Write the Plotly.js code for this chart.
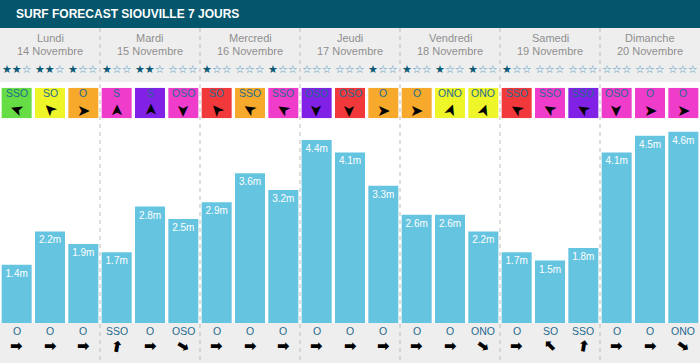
<!DOCTYPE html>
<html><head><meta charset="utf-8">
<script src="https://cdn.plot.ly/plotly-3.0.1.min.js"></script>
<style>html,body{margin:0;padding:0;background:#fff}#chart{width:700px;height:363px}</style>
</head><body><div id="chart"></div>
<script>
const chartTitle = "SURF FORECAST SIOUVILLE 7 JOURS";
const dayNames = ["Lundi","Mardi","Mercredi","Jeudi","Vendredi","Samedi","Dimanche"];
const dayDates = ["14 Novembre","15 Novembre","16 Novembre","17 Novembre","18 Novembre","19 Novembre","20 Novembre"];
const waveHeights = [1.4,2.2,1.9, 1.7,2.8,2.5, 2.9,3.6,3.2, 4.4,4.1,3.3, 2.6,2.6,2.2, 1.7,1.5,1.8, 4.1,4.5,4.6];
const starRating = [2,2,1, 1,2,0, 1,0,1, 0,0,1, 1,1,1, 1,0,0, 0,0,0];
const windDir = ["SSO","SO","O", "S","S","OSO", "SO","SSO","SSO", "OSO","OSO","O", "O","ONO","ONO", "SSO","SSO","SSO", "OSO","O","O"];
const windArrowAngle = [200,225,0, 270,270,90, 228,212,212, 90,90,0, 0,290,290, 212,212,212, 90,0,0];
const windLevel = [0,1,2, 4,5,4, 3,2,4, 5,3,2, 2,1,1, 3,4,5, 4,4,4];
const swellDir = ["O","O","O", "SSO","O","OSO", "O","O","O", "O","O","O", "O","O","ONO", "O","SO","SSO", "O","O","ONO"];
const swellArrowAngle = [0,0,0, 280,0,30, 0,0,0, 0,0,0, 0,0,35, 0,225,280, 0,0,35];

// styles
const windPalette = ["#66dd44","#eef529","#f6a92b","#f1383b","#ef3ccb","#8121e6"];
const FONT = 'Arial, "Liberation Sans", sans-serif';
const ARROWFONT = '"DejaVu Sans", sans-serif';
const dirColor = "#1f6b8f";
const W = 700, H = 363, PLOT_H = 323;
const P = y => (PLOT_H - y) / PLOT_H; // pixel row -> paper coordinate

const idx = waveHeights.map((_, i) => i);

const traces = [
  {
    type: "bar", x: idx, y: waveHeights,
    marker: { color: "#65c4df" },
    texttemplate: "%{y:.1f}m", textposition: "inside", insidetextanchor: "end",
    textfont: { color: "#ffffff", size: 10, family: FONT },
    hoverinfo: "skip"
  },
  {
    type: "bar", x: idx, y: idx.map(() => 1), yaxis: "y2",
    marker: { color: windLevel.map(l => windPalette[l]) },
    hoverinfo: "skip"
  }
];

const shapes = [
  { type: "rect", xref: "paper", yref: "paper", x0: 0, x1: 1, y0: P(0), y1: P(28), fillcolor: "#03566b", line: { width: 0 }, layer: "below" },
  { type: "rect", xref: "paper", yref: "paper", x0: 0, x1: 1, y0: P(28), y1: P(82), fillcolor: "#eeeeee", line: { width: 0 }, layer: "below" },
  { type: "rect", xref: "paper", yref: "paper", x0: 0, x1: 1, y0: P(323), y1: P(363), fillcolor: "#eeeeee", line: { width: 0 }, layer: "below" }
];
for (let d = 1; d < dayNames.length; d++) {
  shapes.push({ type: "line", xref: "x", yref: "paper", x0: 3 * d - 0.5, x1: 3 * d - 0.5, y0: P(28), y1: P(363),
    line: { color: "#bdbdbd", width: 1, dash: "4px,4px" }, layer: "above" });
}

const annotations = [];
annotations.push({ xref: "paper", yref: "paper", x: 14 / W, y: P(14.5), xanchor: "left", yanchor: "middle",
  text: "<b>" + chartTitle + "</b>", showarrow: false, font: { family: FONT, size: 12, color: "#ffffff" } });

dayNames.forEach((n, d) => {
  annotations.push({ xref: "x", yref: "paper", x: 3 * d + 1, y: P(38), xanchor: "center", yanchor: "middle",
    text: n, showarrow: false, font: { family: FONT, size: 11, color: "#8f8f8f" } });
  annotations.push({ xref: "x", yref: "paper", x: 3 * d + 1, y: P(51.5), xanchor: "center", yanchor: "middle",
    text: dayDates[d], showarrow: false, font: { family: FONT, size: 11, color: "#8f8f8f" } });
});

idx.forEach(i => {
  const s = starRating[i];
  const txt = (s > 0 ? '<span style="color:#0b5a77">' + "★".repeat(s) + "</span>" : "") +
              (s < 3 ? '<span style="color:#4d97c0">' + "☆".repeat(3 - s) + "</span>" : "");
  annotations.push({ xref: "x", yref: "paper", x: i, y: P(70), xanchor: "center", yanchor: "middle",
    text: txt, showarrow: false, font: { family: ARROWFONT, size: 11 } });
  annotations.push({ xref: "x", yref: "y2", x: i, y: 0.814, xanchor: "center", yanchor: "middle",
    text: windDir[i], showarrow: false, font: { family: FONT, size: 10.5, color: dirColor } });
  annotations.push({ xref: "x", yref: "y2", x: i, y: 0.26, xanchor: "center", yanchor: "middle",
    text: "➤", textangle: windArrowAngle[i], showarrow: false, borderpad: 0,
    font: { family: ARROWFONT, size: 16, color: "#000000" } });
  annotations.push({ xref: "x", yref: "paper", x: i, y: P(330.8), xanchor: "center", yanchor: "middle",
    text: swellDir[i], showarrow: false, borderpad: 0, font: { family: FONT, size: 10.5, color: dirColor } });
  annotations.push({ xref: "x", yref: "paper", x: i, y: P(346), xanchor: "center", yanchor: "middle",
    text: "<b>➡</b>", textangle: swellArrowAngle[i], showarrow: false, borderpad: 0,
    font: { family: ARROWFONT, size: 15, color: "#000000" } });
});

const hidden = { showgrid: false, zeroline: false, showticklabels: false, ticks: "", showline: false, fixedrange: true };

const layout = {
  width: W, height: H,
  margin: { l: 0, r: 0, t: 0, b: H - PLOT_H, pad: 0 },
  paper_bgcolor: "#ffffff", plot_bgcolor: "rgba(0,0,0,0)",
  showlegend: false, bargap: 0.1,
  xaxis: Object.assign({ range: [-0.5, waveHeights.length - 0.5] }, hidden),
  yaxis: Object.assign({ range: [0, PLOT_H / 41.6], domain: [0, 1] }, hidden),
  yaxis2: Object.assign({ range: [0, 1], domain: [P(118.3), P(87.7)], anchor: "x" }, hidden),
  shapes: shapes, annotations: annotations,
  hovermode: false
};

Plotly.newPlot("chart", traces, layout, { displayModeBar: false, staticPlot: true });
</script>
</body></html>
